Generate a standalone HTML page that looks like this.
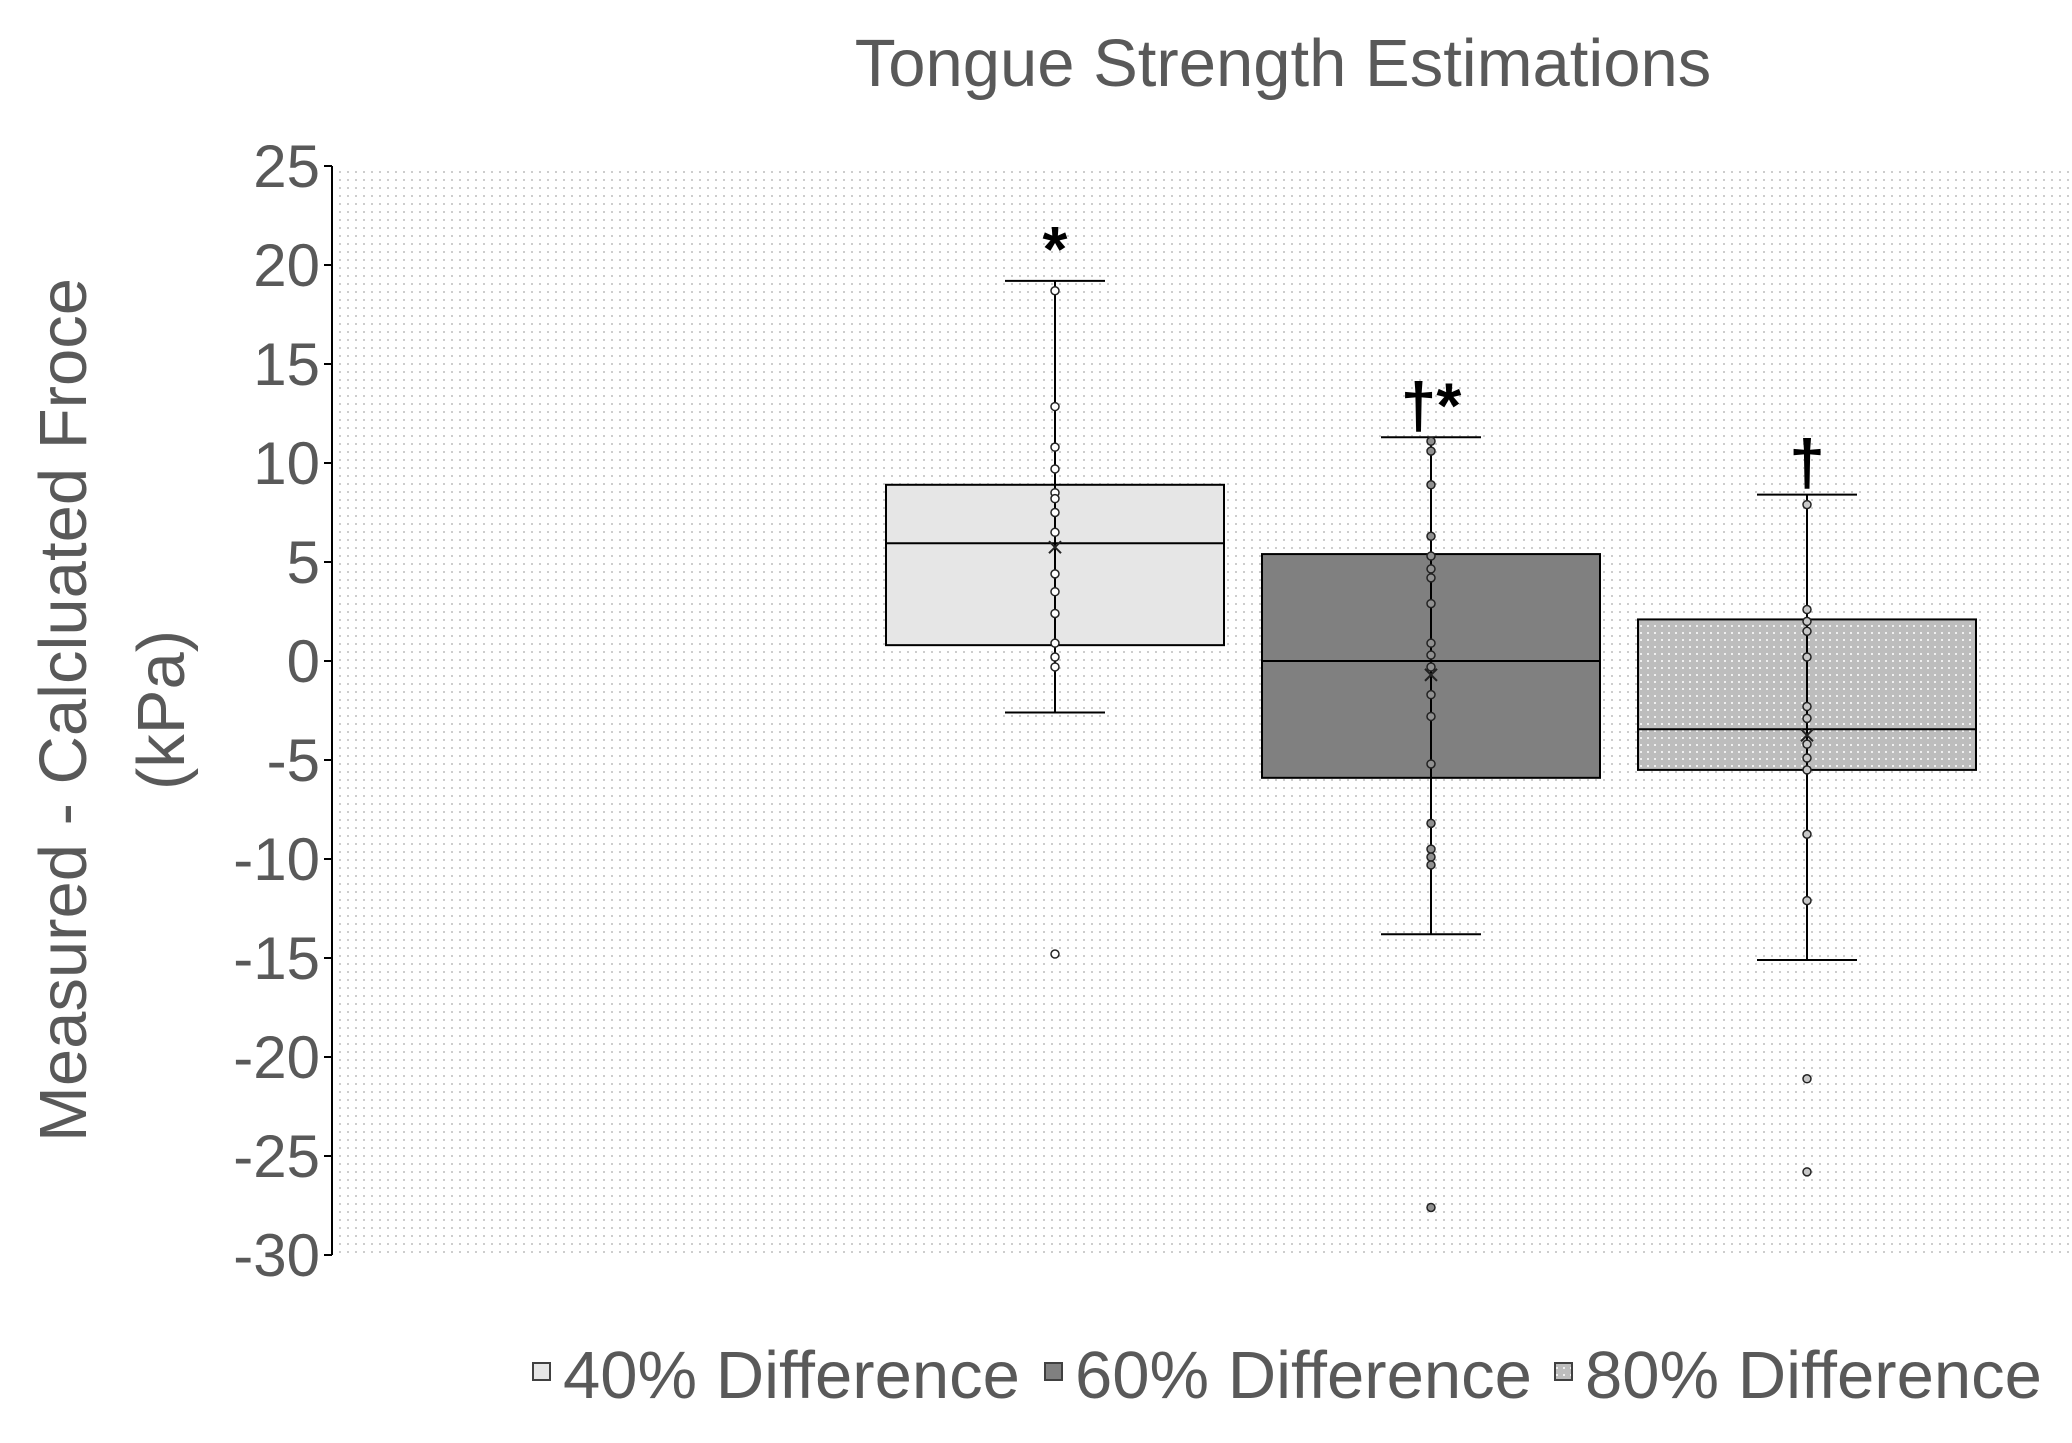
<!DOCTYPE html>
<html><head><meta charset="utf-8"><style>
html,body{margin:0;padding:0;background:#fff;}
svg{display:block;}
text{font-family:"Liberation Sans","DejaVu Sans",sans-serif;}
</style></head><body>
<svg id="chart" width="2072" height="1443" viewBox="0 0 2072 1443">
<defs>
<pattern id="bgdots" width="8" height="8" patternUnits="userSpaceOnUse"><rect width="8" height="8" fill="#fff"/><rect x="3" y="3" width="2" height="2" fill="#cdcdcd"/></pattern>
<pattern id="lightdots" width="7" height="7" patternUnits="userSpaceOnUse"><rect width="7" height="7" fill="#bdbdbd"/><rect x="2" y="2" width="2" height="2" fill="#f0f0f0"/></pattern>
</defs>
<rect x="332" y="165" width="1738" height="1092" fill="url(#bgdots)"/>
<text x="1283" y="86" text-anchor="middle" font-size="67" fill="#595959">Tongue Strength Estimations</text>
<g transform="translate(86,710) rotate(-90)">
<text x="0" y="0" text-anchor="middle" font-size="67" fill="#595959">Measured - Calcluated Froce</text>
<text x="0" y="98" text-anchor="middle" font-size="67" fill="#595959">(kPa)</text>
</g>
<g id="axis"></g>
<g id="boxes"></g>
<g>
<rect x="533" y="1363" width="17" height="17" fill="#e6e6e6" stroke="#404040" stroke-width="2"/>
<text x="563" y="1398" font-size="67" fill="#595959">40% Difference</text>
<rect x="1045" y="1363" width="17" height="17" fill="#808080" stroke="#404040" stroke-width="2"/>
<text x="1075" y="1398" font-size="67" fill="#595959">60% Difference</text>
<rect x="1555" y="1363" width="17" height="17" fill="url(#lightdots)" stroke="#404040" stroke-width="2"/>
<text x="1585" y="1398" font-size="67" fill="#595959">80% Difference</text>
</g>
</svg>
<script>
const categories = ["40% Difference","60% Difference","80% Difference"];
const q1 = [0.8, -5.9, -5.5];
const q3 = [8.9, 5.4, 2.1];
const medians = [5.95, 0.0, -3.45];
const means = [5.75, -0.7, -3.75];
const whiskerLow = [-2.6, -13.8, -15.1];
const whiskerHigh = [19.2, 11.3, 8.4];
const points40 = [18.7,12.85,10.8,9.7,8.5,8.2,7.5,6.5,4.4,3.5,2.4,0.9,0.2,-0.3,-14.8];
const points60 = [11.1,10.6,8.9,6.3,5.3,4.65,4.2,2.9,0.9,0.3,-0.3,-1.7,-2.8,-5.2,-8.2,-9.5,-9.9,-10.3,-27.6];
const points80 = [7.9,2.6,2.0,1.5,0.2,-2.3,-2.9,-4.2,-4.9,-5.5,-8.75,-12.1,-21.1,-25.8];
const annotations = ["*","†*","†"];
const yTicks = [25,20,15,10,5,0,-5,-10,-15,-20,-25,-30];
const NS="http://www.w3.org/2000/svg";
const yMin=-30,yMax=25,yTop=166,yBot=1255;
function yScale(v){return yTop+(yMax-v)/(yMax-yMin)*(yBot-yTop);}
const xLeft=332,bandStart=491,band=376;
function xCenter(i){return bandStart+band*(i+1.5);}
function mk(tag,attrs,parent){const e=document.createElementNS(NS,tag);for(const k in attrs)e.setAttribute(k,attrs[k]);parent.appendChild(e);return e;}
const axis=document.getElementById('axis');
let l=mk('line',{x1:xLeft,y1:yTop,x2:xLeft,y2:yBot,stroke:'#000','stroke-width':2},axis);


yTicks.forEach(v=>{
  const y=yScale(v);
  const t=mk('line',{x1:xLeft-8,y1:y,x2:xLeft,y2:y,stroke:'#000','stroke-width':2},axis);
  
  
  const tx=mk('text',{x:xLeft-12,y:y+21,'text-anchor':'end','font-size':60,fill:'#595959'},axis);
  tx.textContent=v;
  
  
});
const fills=['#e6e6e6','#808080','url(#lightdots)'];
const ptFill=['#fff','#909090','#c8c8c8'];
const allPts=[points40,points60,points80];
const boxes=document.getElementById('boxes');
const halfW=169,capW=50;
categories.forEach((c,i)=>{
  const cx=xCenter(i);
  const g=mk('g',{},boxes);
  
  
  mk('line',{x1:cx,y1:yScale(whiskerHigh[i]),x2:cx,y2:yScale(whiskerLow[i]),stroke:'#000','stroke-width':2},g);
  mk('line',{x1:cx-capW,y1:yScale(whiskerHigh[i]),x2:cx+capW,y2:yScale(whiskerHigh[i]),stroke:'#000','stroke-width':2},g);
  mk('line',{x1:cx-capW,y1:yScale(whiskerLow[i]),x2:cx+capW,y2:yScale(whiskerLow[i]),stroke:'#000','stroke-width':2},g);
  mk('rect',{x:cx-halfW,y:yScale(q3[i]),width:halfW*2,height:yScale(q1[i])-yScale(q3[i]),fill:fills[i],stroke:'#000','stroke-width':2},g);
  mk('line',{x1:cx-halfW,y1:yScale(medians[i]),x2:cx+halfW,y2:yScale(medians[i]),stroke:'#000','stroke-width':2},g);
  mk('line',{x1:cx,y1:yScale(q1[i]),x2:cx,y2:yScale(q3[i]),stroke:'#000','stroke-width':2},g);
  allPts[i].forEach(v=>{
    const p=mk('circle',{cx:cx,cy:yScale(v),r:4,fill:ptFill[i],stroke:'#222','stroke-width':1.5},g);
    
    
  });
  const my=yScale(means[i]);
  const m=mk('path',{d:`M${cx-6} ${my-6}L${cx+6} ${my+6}M${cx+6} ${my-6}L${cx-6} ${my+6}`,stroke:'#222','stroke-width':2,fill:'none'},g);
  
  
  const a=mk('text',{x:cx,y:yScale(whiskerHigh[i])-10,'text-anchor':'middle','font-size':64,'font-weight':'bold',fill:'#000'},g);
  a.textContent=annotations[i];
  
  
});
</script>
</body></html>
